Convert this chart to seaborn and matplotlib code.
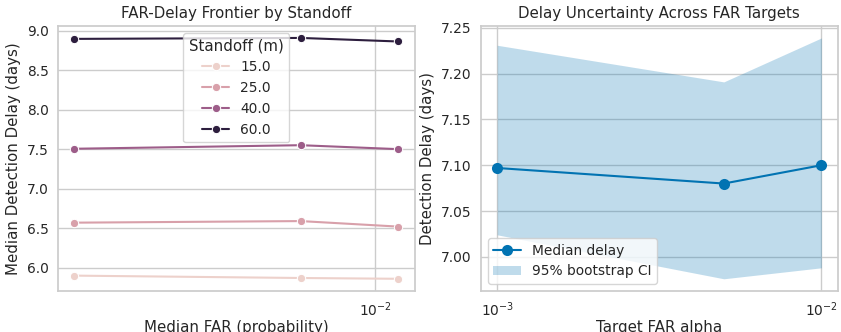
import numpy as np
import pandas as pd
import matplotlib
matplotlib.use("Agg")
import matplotlib.pyplot as plt
import seaborn as sns

# left panel: median FAR vs median delay per standoff
standoffs = [15.0, 25.0, 40.0, 60.0]
median_far = [0.00118, 0.0059, 0.0118]
delay_15 = [5.90, 5.87, 5.86]
delay_25 = [6.57, 6.59, 6.52]
delay_40 = [7.505, 7.55, 7.50]
delay_60 = [8.895, 8.907, 8.862]

# right panel: delay vs target alpha with bootstrap CI
alphas = [0.001, 0.005, 0.01]
median_delay = [7.097, 7.080, 7.100]
ci_low = [7.024, 6.976, 6.988]
ci_high = [7.231, 7.191, 7.239]

rows = []
for s, d in zip(standoffs, [delay_15, delay_25, delay_40, delay_60]):
    for f, v in zip(median_far, d):
        rows.append({"standoff": s, "far": f, "delay": v})
df = pd.DataFrame(rows)

sns.set_theme(style="whitegrid", palette="colorblind", font_scale=0.9)
plt.rcParams["xtick.major.pad"] = 0.8
plt.rcParams["ytick.major.pad"] = 0.8
plt.rcParams["xtick.minor.pad"] = 0.8

fig, axes = plt.subplots(1, 2, figsize=(8.41, 3.32))
fig.subplots_adjust(left=0.069, right=0.996, bottom=0.124, top=0.922, wspace=0.186)

ax = axes[0]
sns.lineplot(data=df, x="far", y="delay", hue="standoff", marker="o", ax=ax)
ax.set_xscale("log")
ax.set_title("FAR-Delay Frontier by Standoff")
ax.set_xlabel("Median FAR (probability)", labelpad=0.5)
ax.set_ylabel("Median Detection Delay (days)")
ax.legend(title="Standoff (m)", loc="upper center")

ax = axes[1]
blue = sns.color_palette("colorblind")[0]
sns.lineplot(x=alphas, y=median_delay, marker="o", markersize=8, markeredgewidth=0,
             color=blue, label="Median delay", ax=ax)
ax.fill_between(alphas, ci_low, ci_high, color=blue, alpha=0.25, linewidth=0,
                label="95% bootstrap CI")
ax.set_xscale("log")
ax.set_title("Delay Uncertainty Across FAR Targets")
ax.set_xlabel("Target FAR alpha", labelpad=0.5)
ax.set_ylabel("Detection Delay (days)")
ax.legend(loc="lower left")

plt.savefig("out.png", dpi=100)
